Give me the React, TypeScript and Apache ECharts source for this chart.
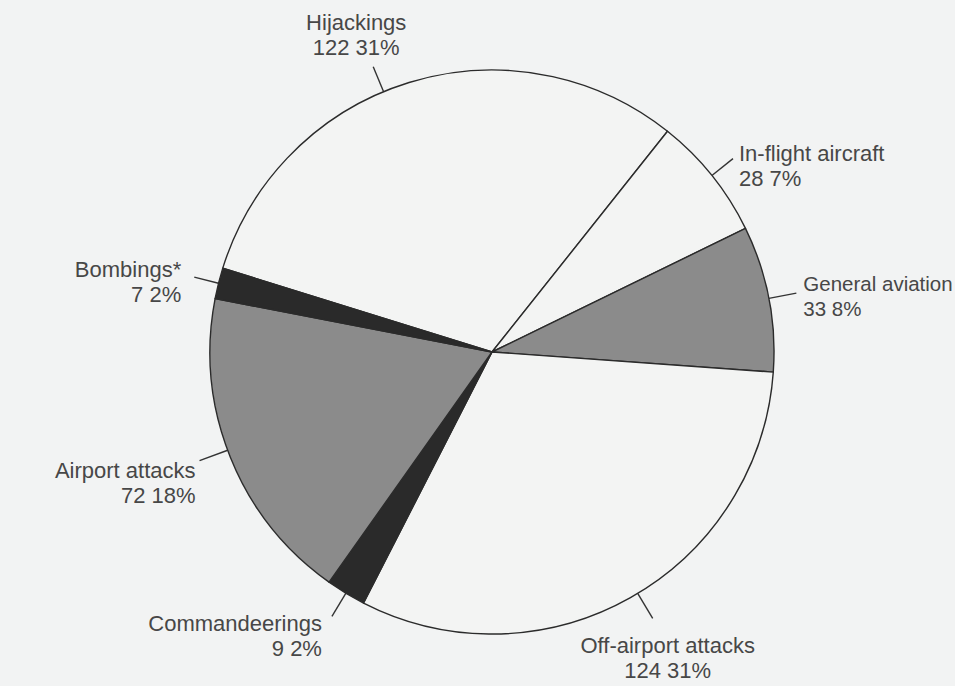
import React, { useEffect, useRef } from "react";
import * as echarts from "echarts";

const categories = [
  "Hijackings",
  "In-flight aircraft",
  "General aviation",
  "Off-airport attacks",
  "Commandeerings",
  "Airport attacks",
  "Bombings*",
];
const counts = [122, 28, 33, 124, 9, 72, 7];

const WHITE = "#f3f4f3";
const GRAY = "#8b8b8b";
const BLACK = "#2a2a2a";
const sliceColors = [WHITE, WHITE, GRAY, WHITE, BLACK, GRAY, BLACK];

// label placement tweaks (leader rotation in degrees, leader length, label offset, font size)
const labelTweaks = [
  { rot: -5.5, len: 27, dx: -17, dy: -7, align: "center", va: "bottom", fs: 22 },
  { rot: 0, len: 27, dx: 6, dy: 7, align: "left", va: "middle", fs: 22 },
  { rot: 0, len: 28, dx: 7, dy: 3, align: "left", va: "middle", fs: 20.5 },
  { rot: -1.7, len: 29, dx: 15, dy: 15, align: "center", va: "top", fs: 22 },
  { rot: 0, len: 27, dx: -10, dy: 20, align: "right", va: "middle", fs: 22 },
  { rot: 1.5, len: 30, dx: -4, dy: 22, align: "right", va: "middle", fs: 22 },
  { rot: 0, len: 25, dx: -13, dy: 5, align: "right", va: "middle", fs: 22 },
];

const W = 955;
const H = 686;
const CX = 492;
const CY = 352;
const R = 282;

export default function App() {
  const ref = useRef<HTMLDivElement>(null);
  useEffect(() => {
    if (!ref.current) return;
    const chart = echarts.init(ref.current, undefined, { renderer: "svg" });
    const total = counts.reduce((a, b) => a + b, 0);
    const rotate = (pt: number[], deg: number) => {
      const a = (deg * Math.PI) / 180;
      const x = pt[0] - CX;
      const y = pt[1] - CY;
      return [CX + x * Math.cos(a) - y * Math.sin(a), CY + x * Math.sin(a) + y * Math.cos(a)];
    };
    chart.setOption({
      animation: false,
      backgroundColor: "#f2f3f3",
      series: [
        {
          type: "pie",
          center: [CX, CY],
          radius: R,
          startAngle: 162.7,
          clockwise: true,
          avoidLabelOverlap: false,
          itemStyle: { borderColor: "#2b2b2b", borderWidth: 1.4 },
          emphasis: { disabled: true },
          label: {
            show: true,
            position: "outside",
            color: "#474747",
            fontFamily: "'Liberation Sans', Arial, Helvetica, sans-serif",
            fontSize: 22,
            lineHeight: 25,
            formatter: (p: any) =>
              `${p.name}\n${p.value} ${Math.round((p.value / total) * 100)}%`,
          },
          labelLine: {
            show: true,
            length2: 0,
            smooth: false,
            lineStyle: { color: "#333333", width: 1.4 },
          },
          labelLayout: (p: any) => {
            const t = labelTweaks[p.dataIndex];
            const pts = (p.labelLinePoints || []).map((pt: number[]) => rotate(pt, t.rot));
            if (!pts.length) return {};
            const end = pts[pts.length - 1];
            return {
              x: end[0] + t.dx,
              y: end[1] + t.dy,
              align: t.align,
              verticalAlign: t.va,
              labelLinePoints: pts,
            };
          },
          data: categories.map((name, i) => ({
            name,
            value: counts[i],
            itemStyle: { color: sliceColors[i] },
            label: { fontSize: labelTweaks[i].fs },
            labelLine: { length: labelTweaks[i].len, length2: 0 },
          })),
        },
      ],
    });
    return () => chart.dispose();
  }, []);
  return (
    <div
      ref={ref}
      style={{
        position: "absolute",
        left: 0,
        top: 0,
        width: W,
        height: H,
        overflow: "hidden",
        background: "#f2f3f3",
      }}
    />
  );
}
